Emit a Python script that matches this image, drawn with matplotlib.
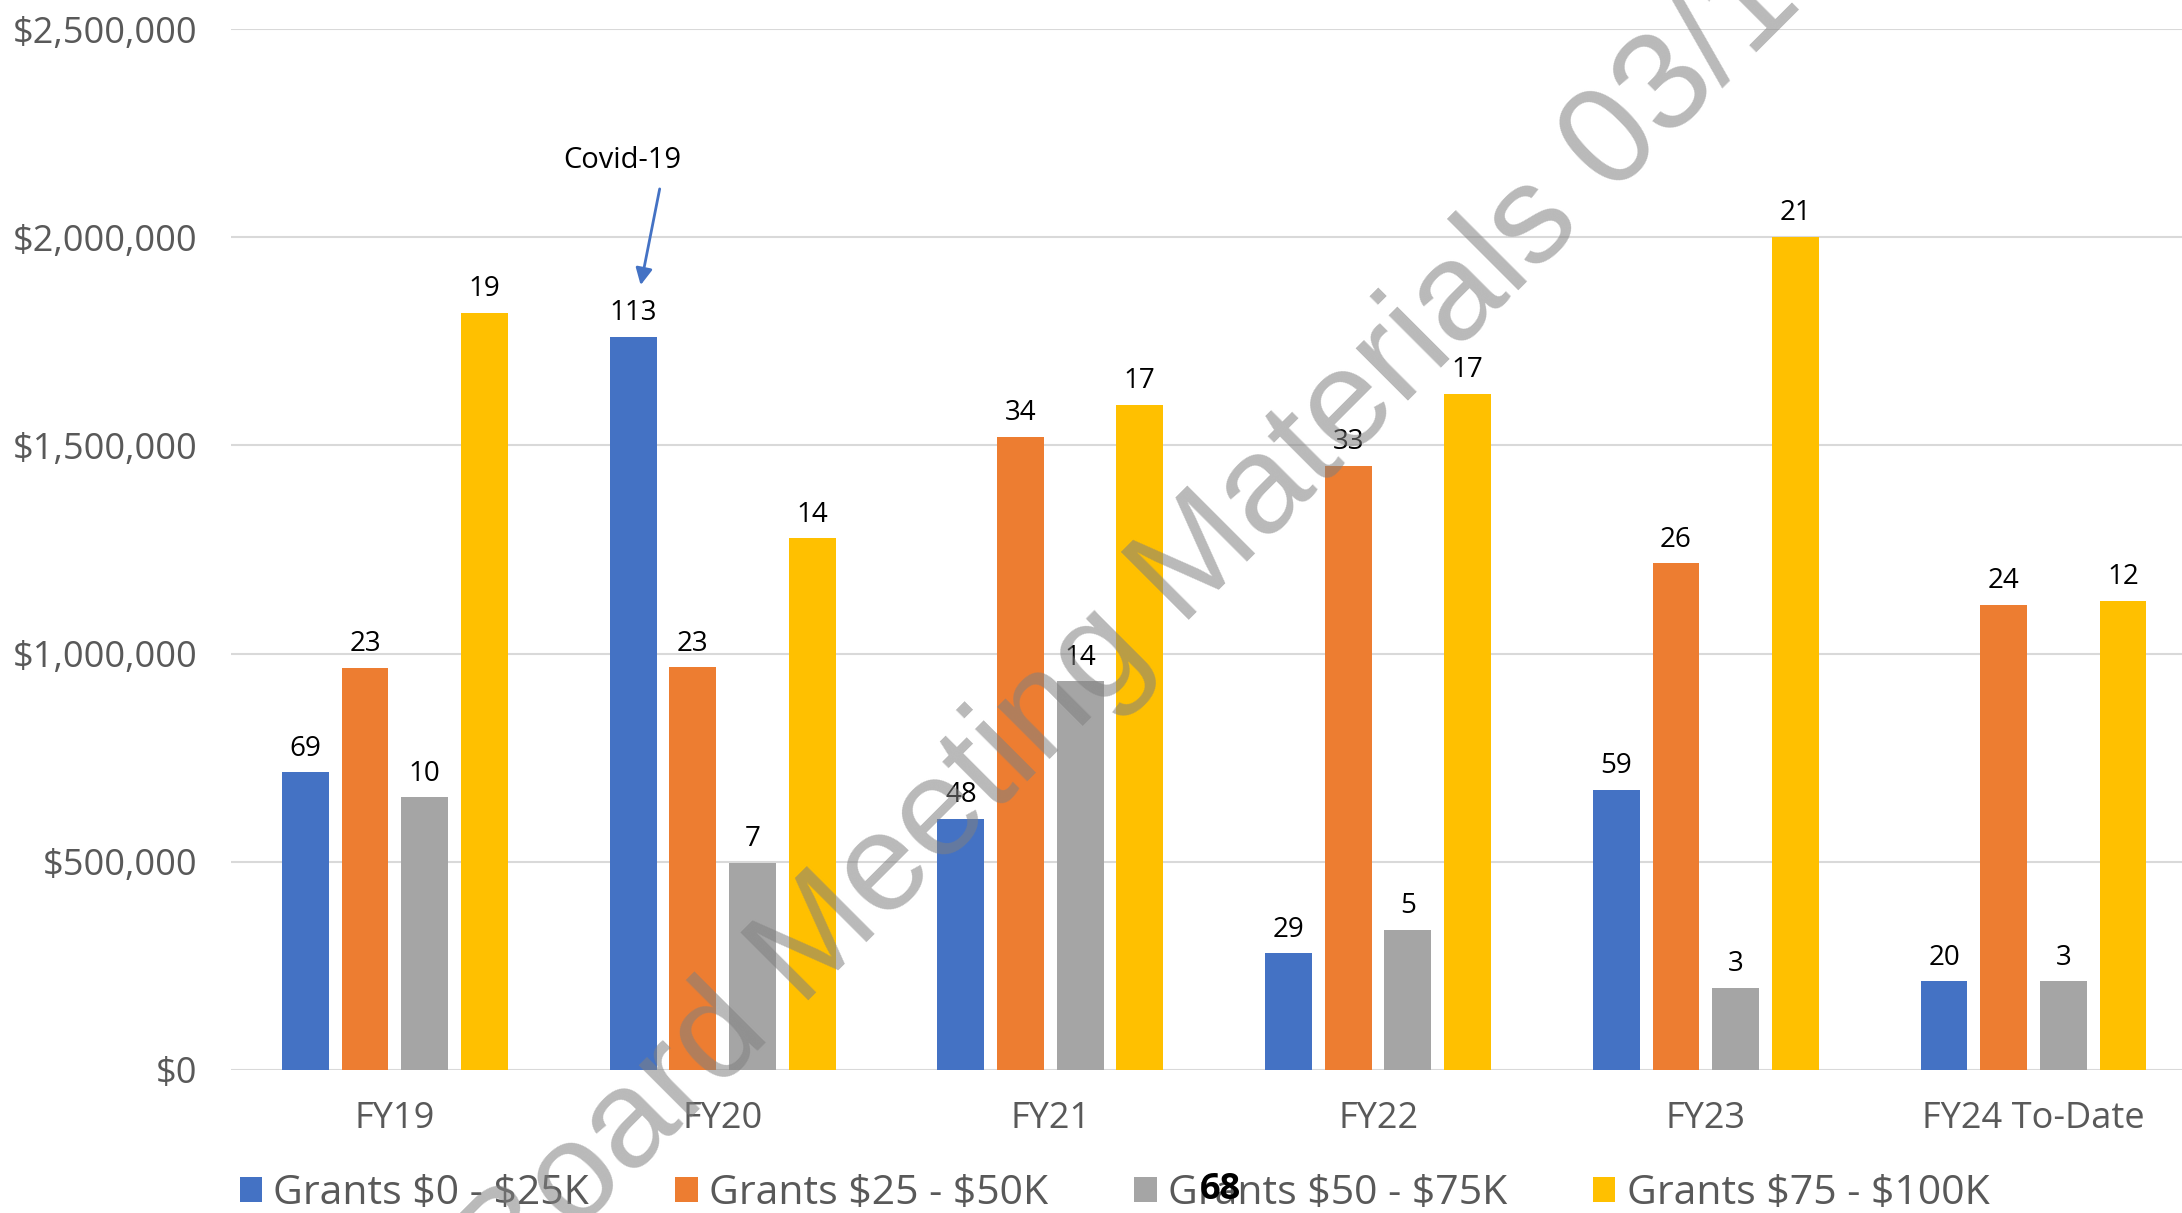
import numpy as np
import matplotlib
matplotlib.use("Agg")
import matplotlib.pyplot as plt

plt.rcParams['font.family'] = ['Open Sans', 'DejaVu Sans']

years = ['FY19', 'FY20', 'FY21', 'FY22', 'FY23', 'FY24 To-Date']
series = [r'Grants \$0 - \$25K', r'Grants \$25 - \$50K', r'Grants \$50 - \$75K', r'Grants \$75 - \$100K']
colors = ['#4472C4', '#ED7D31', '#A5A5A5', '#FFC000']

# dollar totals per bucket
amt_0_25 = [715000, 1760000, 603000, 280000, 673000, 213000]
amt_25_50 = [965000, 967000, 1520000, 1450000, 1217000, 1117000]
amt_50_75 = [655000, 497000, 933000, 337000, 197000, 213000]
amt_75_100 = [1818000, 1277000, 1597000, 1623000, 2000000, 1127000]

# number of grants (bar labels)
n_0_25 = [69, 113, 48, 29, 59, 20]
n_25_50 = [23, 23, 34, 33, 26, 24]
n_50_75 = [10, 7, 14, 5, 3, 3]
n_75_100 = [19, 14, 17, 17, 21, 12]

amounts = [amt_0_25, amt_25_50, amt_50_75, amt_75_100]
counts = [n_0_25, n_25_50, n_50_75, n_75_100]

fig = plt.figure(figsize=(21.82, 12.13), dpi=100)
ax = fig.add_axes([231/2182, 1-1070/1213, 1-231/2182, (1070-29)/1213])

x = np.arange(len(years))
pitch, width = 0.182, 0.143
for i in range(4):
    bars = ax.bar(x + (i-1.5)*pitch, amounts[i], width, color=colors[i], label=series[i], zorder=2)
    ax.bar_label(bars, labels=[str(c) for c in counts[i]], padding=7, fontsize=20, color='black')

ax.set_xlim(-0.5, 5.453)
ax.set_ylim(0, 2500000)
ax.set_yticks(np.arange(0, 2500001, 500000))
ax.yaxis.set_major_formatter(matplotlib.ticker.StrMethodFormatter('${x:,.0f}'))
ax.set_xticks(x)
ax.set_xticklabels(years)
ax.tick_params(axis='y', length=0, pad=24, labelsize=26, labelcolor='#595959')
ax.tick_params(axis='x', length=0, pad=22, labelsize=26, labelcolor='#595959')
ax.yaxis.grid(True, color='#D9D9D9', linewidth=1.5)
ax.set_axisbelow(True)
for s in ax.spines.values():
    s.set_visible(False)

# covid note
ax.text(0.695, 2185000, 'Covid-19', ha='center', va='center', fontsize=21)
ax.annotate('', xy=(0.75, 1885000), xytext=(0.808, 2116000),
            arrowprops=dict(arrowstyle='-|>', color='#4472C4', lw=2, mutation_scale=25,
                            shrinkA=0, shrinkB=0))

fig.legend(loc='center', bbox_to_anchor=(0.5108, 1-1194/1213), ncol=4, frameon=False,
           fontsize=29.5, handlelength=0.55, handleheight=0.55, handletextpad=0.27,
           columnspacing=2.1, labelcolor='#595959')

fig.text(1220/2182, 1-1190/1213, '68', fontweight='bold', fontsize=26, ha='center', va='center', zorder=10)

# watermark
fig.text(0.233, -0.072, 'Board Meeting Materials 03/18/2024', rotation=45, rotation_mode='anchor',
         ha='left', va='baseline', fontsize=101, family='Liberation Sans',
         color='#808080', alpha=0.55, zorder=10)

fig.savefig('out.png', dpi=100)
